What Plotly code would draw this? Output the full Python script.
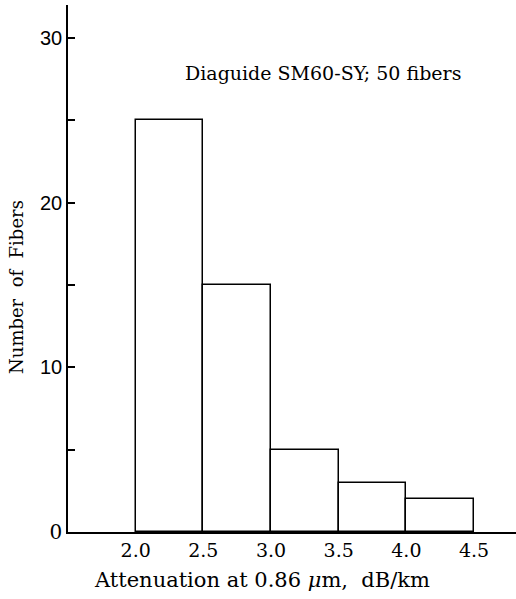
import plotly.graph_objects as go

bin_edges = [2.0, 2.5, 3.0, 3.5, 4.0, 4.5]
counts = [25, 15, 5, 3, 2]
x_tick_vals = [2.0, 2.5, 3.0, 3.5, 4.0, 4.5]
x_tick_text = ["2.0", "2.5", "3.0", "3.5", "4.0", "4.5"]
y_tick_vals = [0, 10, 20, 30]
y_tick_text = ["<span style='font-family:DejaVu Serif'>0</span>", "10", "20", "30"]

centers = [(a + b) / 2 for a, b in zip(bin_edges[:-1], bin_edges[1:])]
widths = [b - a for a, b in zip(bin_edges[:-1], bin_edges[1:])]

SERIF = "DejaVu Serif"

fig = go.Figure()
fig.add_trace(go.Bar(
    x=centers, y=counts, width=widths,
    marker=dict(color="white", line=dict(color="black", width=1.5)),
    showlegend=False, hoverinfo="skip",
))

fig.update_layout(
    width=516, height=599,
    margin=dict(l=68, r=0, t=5, b=67),
    paper_bgcolor="white", plot_bgcolor="white",
    font=dict(family=SERIF, color="black", size=18),
    bargap=0,
    xaxis=dict(
        range=[1.5, 4.81], showline=True, linecolor="black", linewidth=1.5,
        showgrid=False, zeroline=False, ticks="",
        tickvals=x_tick_vals, ticktext=x_tick_text,
        tickfont=dict(family=SERIF, size=19),
    ),
    yaxis=dict(
        range=[0, 32.0], showline=True, linecolor="black", linewidth=1.5,
        showgrid=False, zeroline=False,
        tickvals=y_tick_vals, ticktext=y_tick_text,
        ticks="inside", ticklen=7, tickcolor="black", tickwidth=1.5,
        minor=dict(dtick=5, ticks="inside", ticklen=7, tickcolor="black", tickwidth=1.5),
        tickfont=dict(family="Liberation Sans", size=20),
    ),
    annotations=[
        dict(text="Diaguide SM60-SY; 50 fibers", x=0.569, y=0.871,
             xref="paper", yref="paper", showarrow=False,
             font=dict(family=SERIF, size=19), xanchor="center", yanchor="middle"),
        dict(text="Attenuation at 0.86 <i>μ</i>m,\u00a0 dB/km", x=0.433, y=-0.0911,
             xref="paper", yref="paper", showarrow=False,
             font=dict(family=SERIF, size=21), xanchor="center", yanchor="middle"),
        dict(text="Number\u00a0 of\u00a0 Fibers", x=-0.1138, y=0.465, textangle=-90,
             xref="paper", yref="paper", showarrow=False,
             font=dict(family=SERIF, size=18), xanchor="center", yanchor="middle"),
    ],
)

fig.write_html("out.html", config={"displayModeBar": False},
               post_script="document.body.style.margin='0px';")
